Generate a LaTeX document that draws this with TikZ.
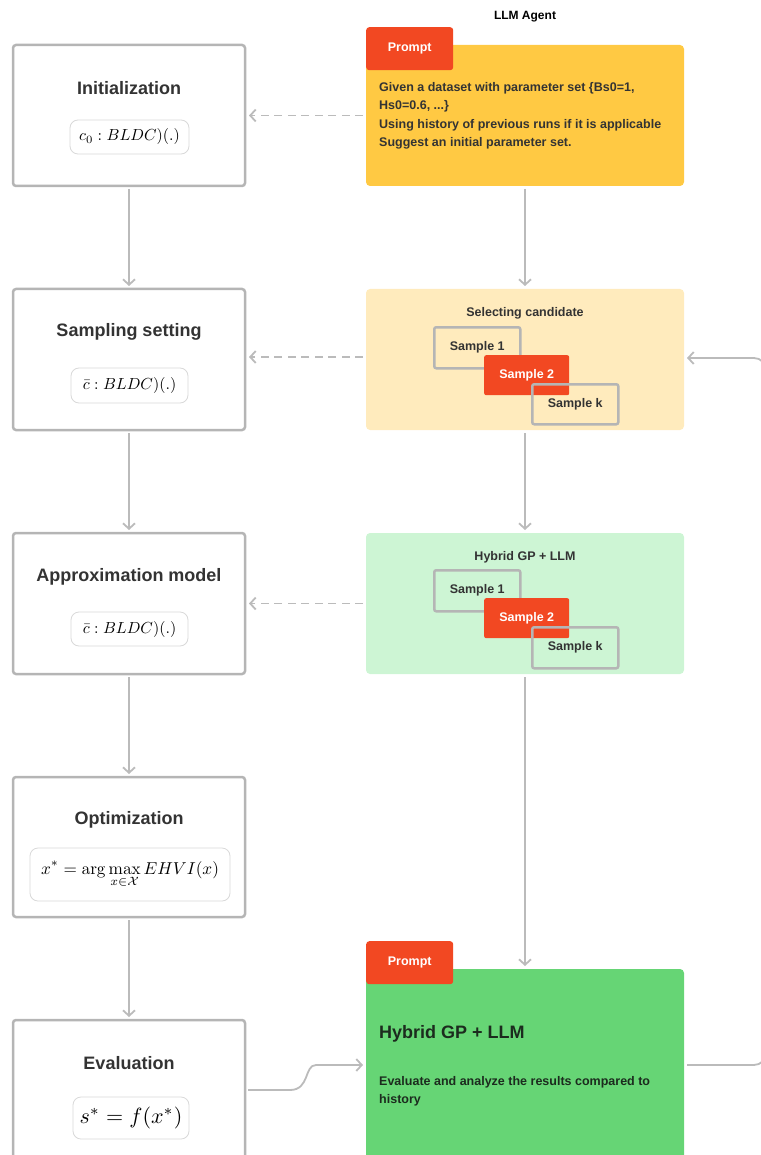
\documentclass[tikz,border=0pt]{standalone}
\usepackage{graphicx}
\usepackage[no-math]{fontspec}
\setmainfont{Liberation Sans}
\usetikzlibrary{arrows.meta}
\definecolor{lgray}{HTML}{B5B5B5}
\definecolor{agray}{HTML}{BBBBBB}
\definecolor{chipgray}{HTML}{D9D9D9}
\definecolor{tred}{HTML}{F24822}
\definecolor{yel}{HTML}{FFC943}
\definecolor{lyel}{HTML}{FFEBBD}
\definecolor{lgreen}{HTML}{CDF5D4}
\definecolor{dgreen}{HTML}{66D575}
\definecolor{txt}{HTML}{333333}
\definecolor{gtxt}{HTML}{1C2B1E}
\tikzset{
  lbox/.style={draw=lgray, line width=2.5pt, rounded corners=3pt, fill=white, anchor=north west, minimum width=232pt, minimum height=141pt, outer sep=0pt},
  ltitle/.style={font=\fontsize{18}{20}\selectfont\bfseries, text=txt},
  chip/.style={draw=chipgray, line width=0.8pt, rounded corners=8pt, fill=white, inner sep=0pt},
  rbox/.style={rounded corners=4pt, anchor=north west, minimum width=318pt, minimum height=141pt, inner sep=0pt, outer sep=0pt},
  tab/.style={fill=tred, rounded corners=3pt, anchor=north west, minimum width=87pt, minimum height=43pt, inner sep=0pt, text=white, font=\fontsize{12.5}{14}\selectfont\bfseries},
  sbox/.style={draw=lgray, line width=2.5pt, rounded corners=2pt, anchor=north west, minimum width=86pt, minimum height=41pt, inner sep=0pt},
  redbox/.style={fill=tred, rounded corners=2pt, anchor=north west, minimum width=85pt, minimum height=40pt, inner sep=0pt},
  stext/.style={font=\fontsize{12.5}{14}\selectfont\bfseries, text=txt},
  rtitle/.style={font=\fontsize{12.5}{14}\selectfont\bfseries, text=txt},
  arr/.style={draw=agray, line width=1.8pt, -{Straight Barb[length=5.5pt,width=12pt,line width=1.8pt]}, shorten <=3pt, shorten >=3pt},
  darr/.style={arr, dash pattern=on 8pt off 5.5pt},
}
\begin{document}
\begin{tikzpicture}[x=1pt,y=-1pt]
\useasboundingbox (0,0) rectangle (760,1155);
% ---------- left column ----------
\node[lbox] (init) at (13,45) {};
\node[ltitle] (initT) at (129,88) {Initialization};
\node[chip, minimum width=119pt, minimum height=34pt] (initC) at (129.5,137) {\scalebox{1.6}{$c_0 : BLDC)(.)$}};

\node[lbox] (samp) at (13,289) {};
\node[ltitle] (sampT) at (129,332) {Sampling setting};
\node[chip, minimum width=117pt, minimum height=35pt] (sampC) at (129.5,385.5) {\scalebox{1.6}{$\bar{c} : BLDC)(.)$}};

\node[lbox] (appr) at (13,533) {};
\node[ltitle] (apprT) at (129,577) {Approximation model};
\node[chip, minimum width=117pt, minimum height=34pt] (apprC) at (129.5,629) {\scalebox{1.6}{$\bar{c} : BLDC)(.)$}};

\node[lbox, minimum height=140pt] (opt) at (13,777) {};
\node[ltitle] (optT) at (129,820) {Optimization};
\node[chip, minimum width=200pt, minimum height=53pt] (optC) at (130,874.5) {\scalebox{1.72}{$\displaystyle x^* = \arg\max_{x\in\mathcal{X}} EHVI(x)$}};

\node[lbox, minimum height=160pt] (eval) at (13,1020) {};
\node[ltitle] (evalT) at (129,1063) {Evaluation};
\node[chip, minimum width=116pt, minimum height=42pt] (evalC) at (131,1118) {\scalebox{2.2}{$s^* = f(x^*)$}};

\draw[arr] (init.south) -- (samp.north);
\draw[arr] (samp.south) -- (appr.north);
\draw[arr] (appr.south) -- (opt.north);
\draw[arr] (opt.south) -- (eval.north);

% ---------- right column ----------
\node[font=\fontsize{12}{14}\selectfont\bfseries, text=black] (agent) at (525,17) {LLM Agent};

\node[rbox, fill=yel] (yb) at (366,45) {};
\node[tab] (p1) at (366,27) {Prompt};
\node[anchor=north west, align=left, inner sep=0pt, text=txt, font=\fontsize{12.5}{18.5}\selectfont\bfseries] (ybT) at (379,82)
  {Given a dataset with parameter set \{Bs0=1,\\Hs0=0.6, ...\}\\Using history of previous runs if it is applicable\\Suggest an initial parameter set.};

\node[rbox, fill=lyel] (sb) at (366,289) {};
\node[rtitle] (sbT) at (525,313) {Selecting candidate};
\node[sbox] (s1a) at (433,326) {};
\node[stext] at (s1a.center) {Sample 1};
\node[redbox] (s2a) at (484,355) {};
\node[stext, text=white] at (s2a.center) {Sample 2};
\node[sbox, minimum height=40pt] (ska) at (531,383) {};
\node[stext] at (ska.center) {Sample k};

\node[rbox, fill=lgreen] (gb) at (366,533) {};
\node[rtitle] (gbT) at (525,557) {Hybrid GP + LLM};
\node[sbox] (s1b) at (433,569) {};
\node[stext] at (s1b.center) {Sample 1};
\node[redbox] (s2b) at (484,598) {};
\node[stext, text=white] at (s2b.center) {Sample 2};
\node[sbox] (skb) at (531,626) {};
\node[stext] at (skb.center) {Sample k};

\node[rbox, fill=dgreen, minimum height=200pt] (gr) at (366,969) {};
\node[tab] (p2) at (366,941) {Prompt};
\node[anchor=west, inner sep=0pt, text=gtxt, font=\fontsize{18}{20}\selectfont\bfseries] (grT) at (379,1034) {Hybrid GP + LLM};
\node[anchor=north west, align=left, inner sep=0pt, text=gtxt, font=\fontsize{12.5}{18.5}\selectfont\bfseries] (grB) at (379,1076)
  {Evaluate and analyze the results compared to\\history};

\draw[arr] (yb.south) -- (sb.north);
\draw[arr] (sb.south) -- (gb.north);
\draw[arr] (gb.south) -- (gr.north);

\draw[darr, shorten >=4pt] (yb.west) -- (yb.west -| init.east);
\draw[darr, shorten >=4pt] ([yshift=2.5pt]sb.west) -- ([yshift=2.5pt]sb.west -| samp.east);
\draw[darr, shorten >=4pt] (gb.west) -- (gb.west -| appr.east);

\draw[arr] ([yshift=10pt]eval.east) -- ++(45,0) .. controls +(20,0) and +(-12,0) .. ++(26,-25) -- ([yshift=4pt]gr.west);
\draw[arr, rounded corners=12pt] ([yshift=4pt]gr.east) -- ++(82,0) |- ([yshift=1.5pt]sb.east);
\end{tikzpicture}
\end{document}
